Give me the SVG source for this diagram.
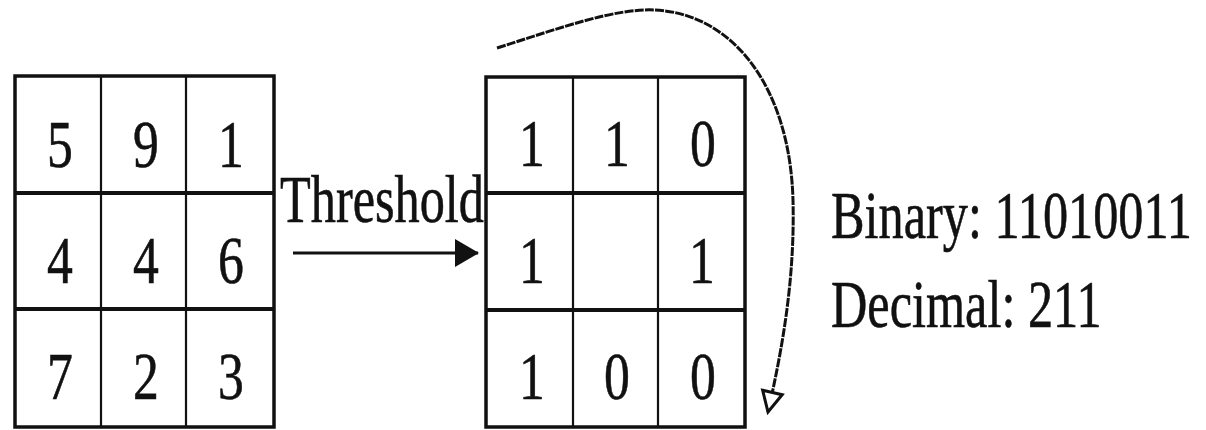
<svg xmlns="http://www.w3.org/2000/svg" width="1206" height="430" viewBox="0 0 1206 430">
<style>
.t{font-family:"Liberation Serif","Times New Roman",serif;font-size:68px;fill:#111;stroke:#111;stroke-width:0.6}
.c{text-anchor:middle}
.box{fill:#fff;stroke:#111;stroke-width:3.5}
.v{stroke:#111;stroke-width:2.2}
.h{stroke:#111;stroke-width:4}
</style>
<defs>
<marker id="solid" viewBox="0 0 24 28" markerWidth="24" markerHeight="28" refX="23" refY="14" orient="auto" markerUnits="userSpaceOnUse">
<path d="M0,0 L24,14 L0,28 Z" fill="#111"/>
</marker>
<marker id="open" viewBox="0 0 26 26" markerWidth="26" markerHeight="26" refX="23" refY="13" orient="auto" markerUnits="userSpaceOnUse">
<path d="M3,3 L23,13 L3,23 Z" fill="#fff" stroke="#111" stroke-width="3"/>
</marker>
</defs>
<rect width="1206" height="430" fill="#fff"/>
<g id="grid-input">
<rect class="box" x="15" y="76" width="259" height="351"/>
<line class="v" x1="101" y1="76" x2="101" y2="427"/>
<line class="v" x1="186" y1="76" x2="186" y2="427"/>
<line class="h" x1="15" y1="193" x2="274" y2="193"/>
<line class="h" x1="15" y1="309" x2="274" y2="309"/>
<text class="t c" transform="translate(60,167) scale(0.76,1)">5</text>
<text class="t c" transform="translate(146,167) scale(0.76,1)">9</text>
<text class="t c" transform="translate(231,167) scale(0.76,1)">1</text>
<text class="t c" transform="translate(60,283) scale(0.76,1)">4</text>
<text class="t c" transform="translate(146,283) scale(0.76,1)">4</text>
<text class="t c" transform="translate(231,283) scale(0.76,1)">6</text>
<text class="t c" transform="translate(60,399) scale(0.76,1)">7</text>
<text class="t c" transform="translate(146,399) scale(0.76,1)">2</text>
<text class="t c" transform="translate(231,399) scale(0.76,1)">3</text>
</g>
<g id="threshold-label">
<text class="t" transform="translate(280,222) scale(0.74,1)">Threshold</text>
</g>
<g id="grid-binary">
<rect class="box" x="486" y="77" width="259" height="350"/>
<line class="v" x1="573" y1="77" x2="573" y2="427"/>
<line class="v" x1="658" y1="77" x2="658" y2="427"/>
<line class="h" x1="486" y1="193" x2="745" y2="193"/>
<line class="h" x1="486" y1="310" x2="745" y2="310"/>
<text class="t c" transform="translate(532,166) scale(0.76,1)">1</text>
<text class="t c" transform="translate(617,166) scale(0.76,1)">1</text>
<text class="t c" transform="translate(703,166) scale(0.76,1)">0</text>
<text class="t c" transform="translate(532,283) scale(0.76,1)">1</text>
<text class="t c" transform="translate(702,283) scale(0.76,1)">1</text>
<text class="t c" transform="translate(532,399) scale(0.76,1)">1</text>
<text class="t c" transform="translate(617,399) scale(0.76,1)">0</text>
<text class="t c" transform="translate(703,399) scale(0.76,1)">0</text>
</g>
<g id="result">
<text class="t" transform="translate(831,238) scale(0.74,1)">Binary: 11010011</text>
<text class="t" transform="translate(831,327) scale(0.74,1)">Decimal: 211</text>
</g>
<g id="connectors">
<line x1="293" y1="253" x2="478" y2="253" stroke="#111" stroke-width="3" marker-end="url(#solid)"/>
<path d="M497,48 C560,28 615,8 655,10 C735,14 790,90 793,200 C795,280 782,350 768,412" fill="none" stroke="#111" stroke-width="3" stroke-dasharray="9 1.2" marker-end="url(#open)"/>
</g>
</svg>
